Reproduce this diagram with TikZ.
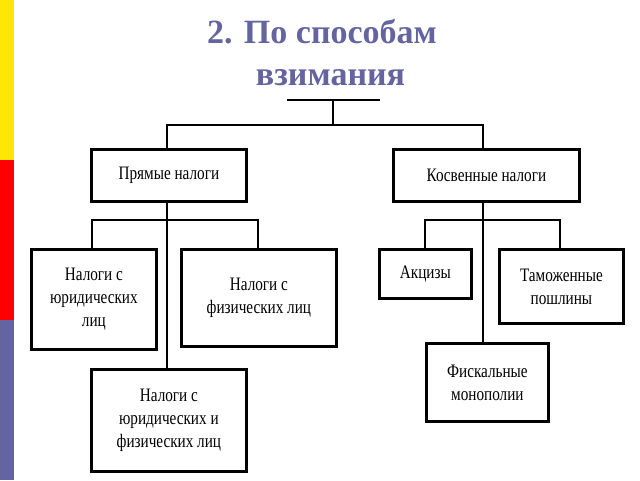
\documentclass[tikz,border=0pt]{standalone}
\usepackage{fontspec}
\setmainfont{Liberation Serif}
\newfontfamily\narrowfont[FakeStretch=0.8]{Liberation Serif}
\usetikzlibrary{positioning}
\definecolor{titleblue}{HTML}{6464A0}
\begin{document}
\begin{tikzpicture}[x=1pt,y=-1pt,
    box/.style={draw, line width=2.8pt, fill=white, align=center,
        font=\narrowfont\fontsize{19}{23}\selectfont,
        inner sep=0pt, anchor=north west},
    link/.style={line width=2.2pt}]
  \useasboundingbox (0,0) rectangle (640,480);
  % side bar
  \fill[yellow!90!orange] (0,0) rectangle (14,160);
  \fill[red] (0,160) rectangle (14,320);
  \fill[titleblue] (0,320) rectangle (14,480);
  % title
  \node[font=\bfseries\fontsize{34}{42}\selectfont, text=titleblue, align=center]
    (title) at (322,52) {2. По способам\\ \ \ взимания};
  % boxes
  \node[box, minimum width=155, minimum height=52] (direct) at (90,148) {Прямые налоги};
  \node[box, minimum width=186, minimum height=52] (indirect) at (392,148) {Косвенные налоги};
  \node[box, minimum width=125, minimum height=100] (legal) at (30,248) {Налоги с\\юридических\\лиц};
  \node[box, minimum width=155, minimum height=97] (phys) at (180,248) {Налоги с\\физических лиц};
  \node[box, minimum width=155, minimum height=102] (both) at (90,368) {Налоги с\\юридических и\\физических лиц};
  \node[box, minimum width=92, minimum height=49] (excise) at (378,248) {Акцизы};
  \node[box, minimum width=124, minimum height=74] (customs) at (498,248) {Таможенные\\пошлины};
  \node[box, minimum width=122, minimum height=78] (fiscal) at (425,342) {Фискальные\\монополии};
  % connectors
  \coordinate (top) at (333,100);
  \draw[link] (287,100) -- (380,100);
  \draw[link] (top) -- (333,125);
  \draw[link] (167,148) |- (483,125) -- (483,148);
  \draw[link] (direct.south -| 167,0) -- (both.north -| 167,0);
  \draw[link] (legal.north -| 92,0) |- (258,220) -- (phys.north -| 258,0);
  \draw[link] (indirect.south -| 483,0) -- (fiscal.north -| 483,0);
  \draw[link] (excise.north -| 425,0) |- (560,220) -- (customs.north -| 560,0);
\end{tikzpicture}
\end{document}
